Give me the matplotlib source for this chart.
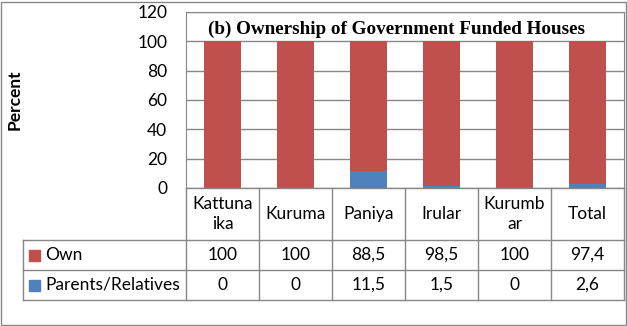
import numpy as np
import matplotlib.pyplot as plt
from matplotlib.lines import Line2D
from matplotlib.patches import Rectangle

plt.rcParams['font.family'] = ['Lato', 'DejaVu Sans']

categories = ['Kattunaika', 'Kuruma', 'Paniya', 'Irular', 'Kurumbar', 'Total']
header_labels = ['Kattuna\nika', 'Kuruma', 'Paniya', 'Irular', 'Kurumb\nar', 'Total']
own = [100, 100, 88.5, 98.5, 100, 97.4]
parents = [0, 0, 11.5, 1.5, 0, 2.6]
series_names = ['Own', 'Parents/Relatives']
yticks = [0, 20, 40, 60, 80, 100, 120]

RED = '#C0504D'
BLUE = '#4F81BD'
GRID = '#878787'
FS = 12.5

W, H = 627, 326


def px(x, y):
    # pixel position (from top-left) -> figure fraction
    return x / W, 1 - y / H


def fmt(v):
    if float(v).is_integer():
        return str(int(v))
    return str(v).replace('.', ',')


fig = plt.figure(figsize=(W / 100, H / 100), dpi=100)

# plot area
left, top, right, bottom = 186, 12, 624, 188
ax = fig.add_axes([left / W, 1 - bottom / H, (right - left) / W, (bottom - top) / H])

x = np.arange(len(categories))
ax.bar(x, parents, width=0.5, color=BLUE, zorder=3)
ax.bar(x, own, width=0.5, bottom=parents, color=RED, zorder=3)

ax.set_xlim(-0.5, len(categories) - 0.5)
ax.set_ylim(0, 120)
ax.set_yticks(yticks)
ax.set_xticks([])
ax.tick_params(axis='y', length=0, pad=13.5, labelsize=FS)
ax.grid(axis='y', color=GRID, lw=1, zorder=0)
for s in ax.spines.values():
    s.set_color(GRID)
ax.spines['bottom'].set_visible(False)

fig.text(*px(15, 100), 'Percent', rotation=90, fontsize=FS, fontweight='bold',
         ha='center', va='center')
fig.text(*px(397, 29), '(b) Ownership of Government Funded Houses',
         family='Liberation Serif', fontweight='bold', fontsize=13.8,
         ha='center', va='center')

# data table
col_w = (right - left) / len(categories)
row_head = (188, 240)
row1 = (240, 270)
row2 = (270, 300)
label_left = 23


def line(x0, y0, x1, y1):
    fig.add_artist(Line2D([x0 / W, x1 / W], [1 - y0 / H, 1 - y1 / H],
                          color=GRID, lw=1))


line(left, row_head[0], left, row2[1])
for i in range(1, len(categories) + 1):
    xx = left + i * col_w
    line(xx, row_head[0], xx, row2[1])
line(left, row_head[0], right, row_head[0])
line(label_left, row1[0], right, row1[0])
line(label_left, row2[0], right, row2[0])
line(label_left, row2[1], right, row2[1])
line(label_left, row1[0], label_left, row2[1])

for i, lab in enumerate(header_labels):
    cx = left + (i + 0.5) * col_w
    fig.text(*px(cx, sum(row_head) / 2), lab, ha='center', va='center',
             fontsize=FS, linespacing=1.3)

for vals, row, name, col in [(own, row1, series_names[0], RED),
                             (parents, row2, series_names[1], BLUE)]:
    cy = sum(row) / 2
    for i, v in enumerate(vals):
        cx = left + (i + 0.5) * col_w
        fig.text(*px(cx, cy), fmt(v), ha='center', va='center', fontsize=FS)
    fig.add_artist(Rectangle(px(29, cy + 5.5), 11 / W, 11 / H, color=col,
                             transform=fig.transFigure))
    fig.text(*px(45, cy), name, ha='left', va='center', fontsize=FS)

# outer chart border
fig.add_artist(Rectangle((1 / W, 1 / H), (W - 2.5) / W, (H - 3) / H,
                         fill=False, edgecolor=GRID, lw=1,
                         transform=fig.transFigure))

fig.savefig('out.png', dpi=100)
